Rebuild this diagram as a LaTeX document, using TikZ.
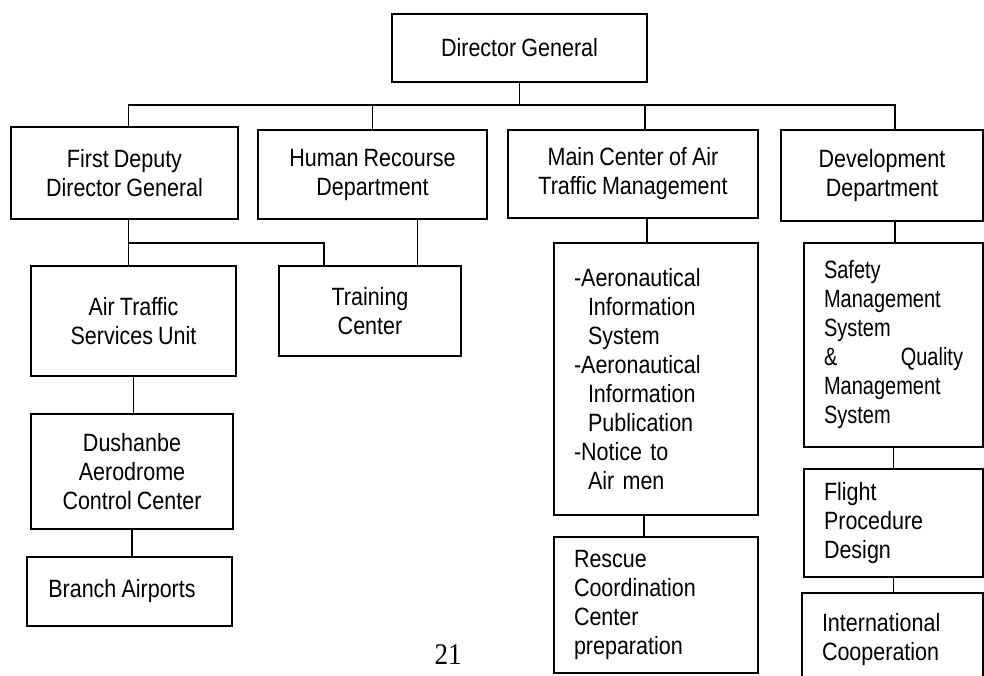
\documentclass[tikz,border=0pt]{standalone}
\usepackage{fontspec}
\setmainfont{Liberation Sans}[FakeStretch=0.86,WordSpace=0.86]
\newfontfamily\narrowfont{Liberation Sans}[FakeStretch=0.8,WordSpace=0.8]
\newfontfamily\pagefont{Liberation Serif}[FakeStretch=0.9]
\begin{document}
\begin{tikzpicture}[x=1pt,y=-1pt,line width=1.8pt,
  box/.style={draw,line width=1.8pt,inner sep=0pt,align=center,font=\fontsize{25}{29}\selectfont},
  listbox/.style={box,align=left,inner xsep=20pt}]
\useasboundingbox (0,0) rectangle (984,675);
% top level
\node[box,minimum width=255pt,minimum height=68pt] (dg) at (519.5,48) {Director General};
\node[box,minimum width=227pt,minimum height=92pt] (fdd) at (124.5,173) {First Deputy\\Director General};
\node[box,minimum width=229pt,minimum height=89pt] (hr) at (372.5,174.5) {Human Recourse\\Department};
\node[box,minimum width=250pt,minimum height=88pt] (mcat) at (633,174) {Main Center of Air\\Traffic Management};
\node[box,minimum width=202pt,minimum height=91pt] (dev) at (882,175.5) {Development\\Department};
% second level
\node[box,minimum width=205pt,minimum height=110pt] (ats) at (133.5,321) {Air Traffic\\Services Unit};
\node[box,minimum width=182pt,minimum height=90pt] (tc) at (370,311) {Training\\Center};
\node[listbox,text width=164pt,minimum height=272pt] (aero) at (656,379)
  {-Aeronautical\\\hspace*{14pt}Information\\\hspace*{14pt}System\\-Aeronautical\\\hspace*{14pt}Information\\\hspace*{14pt}Publication\\-Notice to\\\hspace*{14pt}Air men};
\node[listbox,text width=139pt,minimum height=204pt] (safe) at (893.5,345)
  {\narrowfont Safety\\Management\\System\\\&\hfill Quality\\Management\\System};
% third level
\node[box,minimum width=202pt,minimum height=115pt] (dush) at (132,471.5) {Dushanbe\\Aerodrome\\Control Center};
\node[box,minimum width=205pt,minimum height=69pt] (ba) at (129.5,591.5) {Branch Airports\hspace*{15pt}};
\node[listbox,text width=164pt,minimum height=136pt] (resc) at (656,605) {Rescue\\Coordination\\Center\\preparation};
\node[listbox,text width=139pt,minimum height=108pt] (flt) at (893.5,523) {Flight\\Procedure\\Design};
\node[listbox,text width=141pt,minimum height=94pt] (intl) at (892.5,640) {International\\Cooperation};
% lines
\coordinate (bus) at (515,105);
\draw (dg.south) -- (dg.south |- bus);
\draw ([xshift=4pt]fdd.north) |- (bus) -| ([xshift=13pt]dev.north);
\draw (hr.north) -- (hr.north |- bus);
\draw ([xshift=12pt]mcat.north) -- ([xshift=12pt]mcat.north |- bus);
\coordinate (split) at (128.5,243);
\draw ([xshift=4pt]fdd.south) -- ([xshift=4pt]fdd.south |- ats.north);
\draw (split) -| ([xshift=-46pt]tc.north);
\draw ([xshift=45pt]hr.south) -- ([xshift=45pt]hr.south |- tc.north);
\draw ([xshift=14pt]mcat.south) -- ([xshift=14pt]mcat.south |- aero.north);
\draw ([xshift=13pt]dev.south) -- ([xshift=13pt]dev.south |- safe.north);
\draw (ats.south) -- (ats.south |- dush.north);
\draw (dush.south) -- (dush.south |- ba.north);
\draw ([xshift=-12pt]aero.south) -- ([xshift=-12pt]aero.south |- resc.north);
\draw (safe.south) -- (safe.south |- flt.north);
\draw (flt.south) -- (flt.south |- intl.north);
\node[font=\pagefont\fontsize{30}{30}\selectfont,inner sep=0pt] (pg) at (448,655) {21};
\end{tikzpicture}
\end{document}
